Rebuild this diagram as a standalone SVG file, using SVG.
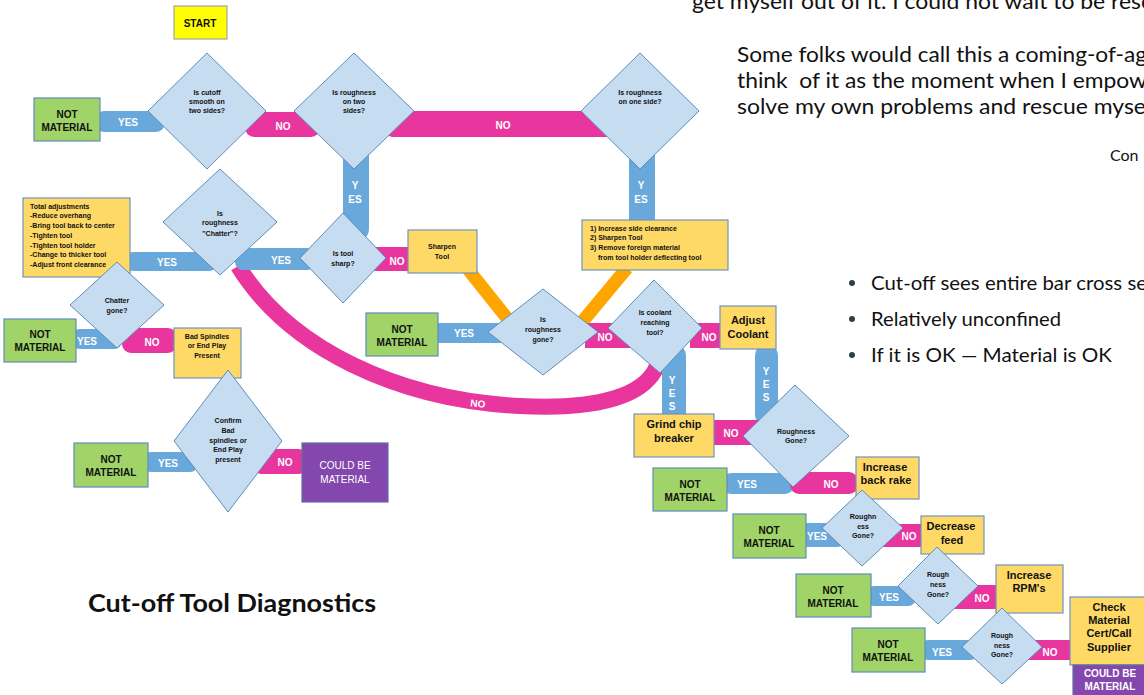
<svg xmlns="http://www.w3.org/2000/svg" width="1144" height="695" viewBox="0 0 1144 695">
<style>
.d{fill:#C6DCF0;stroke:#5F8DBA;stroke-width:1}
.nm{fill:#A0D468;stroke:#5F8DBA;stroke-width:1.2}
.yb{fill:#FFD966;stroke:#6F94BE;stroke-width:1.2}
.pu{fill:#8447AE;stroke:#5F6FA0;stroke-width:1.2}
.b{fill:#68A8DA}
.p{fill:#E8369E}
.o{stroke:#FFA500;stroke-width:13;fill:none}
text{font-family:"Liberation Sans",Arial,sans-serif;font-weight:bold;fill:#111;text-anchor:middle}
.s7{font-size:7px}
.s10{font-size:10px}
.s11{font-size:11px}
.lbl{font-size:10px;fill:#fff}
.l{text-anchor:start}
.w{fill:#fff}
.prose{font-family:Lato,"Open Sans",sans-serif;font-weight:normal;text-anchor:start}
</style>
<rect width="1144" height="695" fill="#fff"/>

<g id="prose">
<text class="prose" x="692" y="9" font-size="21" fill="#222" textLength="460" lengthAdjust="spacingAndGlyphs">get myself out of it. I could not wait to be resc</text>
<text class="prose" x="737" y="62" font-size="21" fill="#222" textLength="410" lengthAdjust="spacingAndGlyphs">Some folks would call this a coming-of-ag</text>
<text class="prose" x="737" y="88" font-size="21" fill="#222" textLength="410" lengthAdjust="spacingAndGlyphs" xml:space="preserve">think  of it as the moment when I empow</text>
<text class="prose" x="737" y="114" font-size="21" fill="#222" textLength="409" lengthAdjust="spacingAndGlyphs">solve my own problems and rescue myse</text>
<text class="prose" x="1110" y="161" font-size="16" fill="#5A7080">Con</text>
<circle cx="852" cy="283" r="3" fill="#2E3F4A"/>
<circle cx="852" cy="319" r="3" fill="#2E3F4A"/>
<circle cx="852" cy="355" r="3" fill="#2E3F4A"/>
<text class="prose" x="871" y="290" font-size="19" fill="#2E3F4A" textLength="276" lengthAdjust="spacingAndGlyphs">Cut-off sees entire bar cross se</text>
<text class="prose" x="871" y="326" font-size="19" fill="#2E3F4A" textLength="190" lengthAdjust="spacingAndGlyphs">Relatively unconfined</text>
<text class="prose" x="871" y="362" font-size="19" fill="#2E3F4A" textLength="241" lengthAdjust="spacingAndGlyphs">If it is OK — Material is OK</text>
<text class="prose" x="88" y="612" font-size="25" fill="#2B3E4A" style="font-weight:bold" textLength="288" lengthAdjust="spacingAndGlyphs">Cut-off Tool Diagnostics</text>
</g>

<g id="connectors">
<line class="o" x1="467" y1="268" x2="510" y2="322"/>
<line class="o" x1="627" y1="268" x2="582" y2="322"/>
<path d="M238 266 C290 350 400 400 520 406 C600 410 645 395 657 366" fill="none" stroke="#E8369E" stroke-width="16"/>
<text class="lbl" x="478" y="407" transform="rotate(6 478 403)">NO</text>
<rect class="b" x="95" y="111" width="70" height="21" rx="9"/>
<text class="lbl" x="128" y="126">YES</text>
<path class="b" d="M343 150 H369 V228 Q369 240 357 240 H343 Z"/>
<text class="lbl" x="355" y="189">Y</text><text class="lbl" x="355" y="203">ES</text>
<rect class="b" x="629" y="150" width="26" height="72"/>
<text class="lbl" x="641" y="189">Y</text><text class="lbl" x="641" y="203">ES</text>
<rect class="b" x="125" y="252" width="92" height="19" rx="8"/>
<text class="lbl" x="167" y="266">YES</text>
<rect class="b" x="235" y="248" width="80" height="22" rx="8"/>
<text class="lbl" x="281" y="264">YES</text>
<rect class="b" x="433" y="323" width="75" height="20" rx="4"/>
<text class="lbl" x="464" y="337">YES</text>
<path class="b" d="M662 345 H674 Q686 345 686 357 V418 H662 Z"/>
<text class="lbl" x="672" y="384">Y</text><text class="lbl" x="672" y="397">E</text><text class="lbl" x="672" y="410">S</text>
<rect class="b" x="755" y="345" width="23" height="80" rx="10"/>
<text class="lbl" x="766" y="375">Y</text><text class="lbl" x="766" y="388">E</text><text class="lbl" x="766" y="401">S</text>
<rect class="b" x="722" y="473" width="72" height="21" rx="9"/>
<text class="lbl" x="747" y="488">YES</text>
<rect class="b" x="800" y="523" width="45" height="24" rx="8"/>
<text class="lbl" x="817" y="540">YES</text>
<rect class="b" x="866" y="586" width="50" height="20" rx="8"/>
<text class="lbl" x="889" y="601">YES</text>
<rect class="b" x="920" y="640" width="58" height="20" rx="8"/>
<text class="lbl" x="942" y="656">YES</text>
<rect class="b" x="72" y="329" width="50" height="20" rx="8"/>
<text class="lbl" x="87" y="345">YES</text>
<rect class="b" x="143" y="452" width="55" height="20" rx="8"/>
<text class="lbl" x="168" y="467">YES</text>
<rect class="p" x="245" y="112" width="75" height="25" rx="9"/>
<text class="lbl" x="283" y="130">NO</text>
<rect class="p" x="385" y="111" width="230" height="26" rx="8"/>
<text class="lbl" x="503" y="129">NO</text>
<rect class="p" x="370" y="247" width="40" height="24"/>
<text class="lbl" x="397" y="265">NO</text>
<rect class="p" x="585" y="323" width="70" height="25"/>
<text class="lbl" x="605" y="341">NO</text>
<rect class="p" x="690" y="323" width="32" height="25"/>
<text class="lbl" x="709" y="341">NO</text>
<rect class="p" x="712" y="420" width="50" height="25"/>
<text class="lbl" x="731" y="437">NO</text>
<rect class="p" x="790" y="472" width="68" height="22" rx="9"/>
<text class="lbl" x="831" y="488">NO</text>
<rect class="p" x="875" y="524" width="48" height="23"/>
<text class="lbl" x="909" y="540">NO</text>
<rect class="p" x="950" y="585" width="48" height="24"/>
<text class="lbl" x="982" y="602">NO</text>
<rect class="p" x="1015" y="640" width="57" height="20"/>
<text class="lbl" x="1050" y="656">NO</text>
<rect class="p" x="122" y="328" width="55" height="25" rx="9"/>
<text class="lbl" x="152" y="346">NO</text>
<rect class="p" x="255" y="449" width="50" height="25" rx="6"/>
<text class="lbl" x="285" y="466">NO</text>
</g>

<g id="start"><rect x="174" y="6" width="53" height="33" fill="#FFFF00" stroke="#A6A6A6" stroke-width="1.2"/><text class="s10" x="200" y="27">START</text></g>

<g id="q-smooth"><polygon class="d" points="207,53 266,111 207,169 148,111"/><text class="s7" x="207" y="95">Is cutoff</text><text class="s7" x="207" y="104">smooth on</text><text class="s7" x="207" y="113">two sides?</text></g>
<g id="nm1"><rect class="nm" x="34" y="98" width="66" height="43"/><text class="s10" x="67" y="118">NOT</text><text class="s10" x="67" y="131">MATERIAL</text></g>

<g id="q-two"><polygon class="d" points="354,53 414,111 354,169 294,111"/><text class="s7" x="354" y="95">Is roughness</text><text class="s7" x="354" y="104">on two</text><text class="s7" x="354" y="113">sides?</text></g>
<g id="q-one"><polygon class="d" points="640,53 699,111 640,169 581,111"/><text class="s7" x="640" y="95">Is roughness</text><text class="s7" x="640" y="104">on one side?</text></g>

<g id="total"><rect class="yb" x="23" y="198" width="107" height="79"/>
<text class="s7 l" x="30" y="209">Total adjustments</text>
<text class="s7 l" x="30" y="218">-Reduce overhang</text>
<text class="s7 l" x="30" y="228">-Bring tool back to center</text>
<text class="s7 l" x="30" y="238">-Tighten tool</text>
<text class="s7 l" x="30" y="248">-Tighten tool holder</text>
<text class="s7 l" x="30" y="257">-Change to thicker tool</text>
<text class="s7 l" x="30" y="267">-Adjust front clearance</text></g>

<g id="q-chatter"><polygon class="d" points="220,169 277,222 220,275 163,222"/><text class="s7" x="220" y="216">Is</text><text class="s7" x="220" y="225">roughness</text><text class="s7" x="220" y="236">"Chatter"?</text></g>
<g id="q-sharp"><polygon class="d" points="343,213 386,258 343,303 300,258"/><text class="s7" x="343" y="256">Is tool</text><text class="s7" x="343" y="266">sharp?</text></g>
<g id="sharpen"><rect class="yb" x="408" y="230" width="69" height="43"/><text class="s7" x="442" y="249">Sharpen</text><text class="s7" x="442" y="259">Tool</text></g>
<g id="increase-side"><rect class="yb" x="582" y="220" width="146" height="50"/>
<text class="s7 l" x="590" y="231">1) Increase side clearance</text>
<text class="s7 l" x="590" y="240">2) Sharpen Tool</text>
<text class="s7 l" x="590" y="250">3) Remove foreign material</text>
<text class="s7 l" x="598" y="260">from tool holder deflecting tool</text></g>

<g id="nm-center"><rect class="nm" x="366" y="313" width="72" height="43"/><text class="s10" x="402" y="333">NOT</text><text class="s10" x="402" y="346">MATERIAL</text></g>
<g id="q-gone"><polygon class="d" points="543,289 598,332 543,375 488,332"/><text class="s7" x="543" y="322">Is</text><text class="s7" x="543" y="332">roughness</text><text class="s7" x="543" y="342">gone?</text></g>
<g id="q-coolant"><polygon class="d" points="654,280 702,328 660,373 608,328"/><text class="s7" x="655" y="315">Is coolant</text><text class="s7" x="655" y="325">reaching</text><text class="s7" x="655" y="335">tool?</text></g>
<g id="adjust"><rect class="yb" x="720" y="306" width="56" height="43"/><text class="s11" x="748" y="324">Adjust</text><text class="s11" x="748" y="338">Coolant</text></g>
<g id="grind"><rect class="yb" x="634" y="414" width="80" height="43"/><text class="s11" x="674" y="428">Grind chip</text><text class="s11" x="674" y="442">breaker</text></g>

<g id="q-rg1"><polygon class="d" points="795,385 849,436 793,487 743,436"/><text class="s7" x="796" y="434">Roughness</text><text class="s7" x="796" y="443">Gone?</text></g>
<g id="nm-rg1"><rect class="nm" x="653" y="468" width="74" height="43"/><text class="s10" x="690" y="488">NOT</text><text class="s10" x="690" y="501">MATERIAL</text></g>
<g id="backrake"><rect class="yb" x="856" y="457" width="63" height="42"/><text class="s11" x="885" y="471">Increase</text><text class="s11" x="886" y="484">back rake</text></g>

<g id="q-rg2"><polygon class="d" points="862,490 903,528 862,566 822,528"/><text class="s7" x="863" y="519">Roughn</text><text class="s7" x="863" y="529">ess</text><text class="s7" x="863" y="538">Gone?</text></g>
<g id="nm3"><rect class="nm" x="733" y="514" width="73" height="44"/><text class="s10" x="769" y="534">NOT</text><text class="s10" x="769" y="547">MATERIAL</text></g>
<g id="decrease"><rect class="yb" x="921" y="516" width="63" height="38"/><text class="s11" x="951" y="530">Decrease</text><text class="s11" x="952" y="544">feed</text></g>

<g id="q-rg3"><polygon class="d" points="937,547 978,586 938,624 898,586"/><text class="s7" x="938" y="577">Rough</text><text class="s7" x="938" y="587">ness</text><text class="s7" x="938" y="597">Gone?</text></g>
<g id="nm4"><rect class="nm" x="796" y="574" width="75" height="43"/><text class="s10" x="833" y="594">NOT</text><text class="s10" x="833" y="607">MATERIAL</text></g>
<g id="rpm"><rect class="yb" x="996" y="565" width="67" height="48"/><text class="s11" x="1029" y="579">Increase</text><text class="s11" x="1029" y="592">RPM's</text></g>

<g id="q-rg4"><polygon class="d" points="1002,608 1042,647 1002,684 962,647"/><text class="s7" x="1002" y="638">Rough</text><text class="s7" x="1002" y="648">ness</text><text class="s7" x="1002" y="657">Gone?</text></g>
<g id="nm5"><rect class="nm" x="852" y="628" width="73" height="44"/><text class="s10" x="888" y="648">NOT</text><text class="s10" x="888" y="661">MATERIAL</text></g>
<g id="check"><rect class="yb" x="1070" y="597" width="80" height="68"/><text class="s11" x="1109" y="611">Check</text><text class="s11" x="1109" y="624">Material</text><text class="s11" x="1109" y="637">Cert/Call</text><text class="s11" x="1109" y="651">Supplier</text></g>
<g id="could2"><rect class="pu" x="1073" y="665" width="76" height="34"/><text class="s10 w" x="1110" y="677">COULD BE</text><text class="s10 w" x="1110" y="690">MATERIAL</text></g>

<g id="nm2"><rect class="nm" x="4" y="319" width="72" height="43"/><text class="s10" x="40" y="338">NOT</text><text class="s10" x="40" y="351">MATERIAL</text></g>
<g id="q-chatter-gone"><polygon class="d" points="117,262 164,305 117,348 70,305"/><text class="s7" x="117" y="303">Chatter</text><text class="s7" x="117" y="313">gone?</text></g>
<g id="bad"><rect class="yb" x="174" y="328" width="67" height="50"/><text class="s7" x="207" y="339">Bad Spindles</text><text class="s7" x="207" y="348">or End Play</text><text class="s7" x="207" y="358">Present</text></g>
<g id="q-confirm"><polygon class="d" points="228,370 282,441 228,512 174,441"/><text class="s7" x="228" y="423">Confirm</text><text class="s7" x="228" y="433">Bad</text><text class="s7" x="228" y="443">spindles or</text><text class="s7" x="228" y="452">End Play</text><text class="s7" x="228" y="462">present</text></g>
<g id="nm6"><rect class="nm" x="74" y="443" width="74" height="44"/><text class="s10" x="111" y="463">NOT</text><text class="s10" x="111" y="476">MATERIAL</text></g>
<g id="could1"><rect class="pu" x="302" y="443" width="86" height="59"/><text class="s10 w" x="345" y="469" style="font-weight:normal">COULD BE</text><text class="s10 w" x="345" y="483" style="font-weight:normal">MATERIAL</text></g>
</svg>
